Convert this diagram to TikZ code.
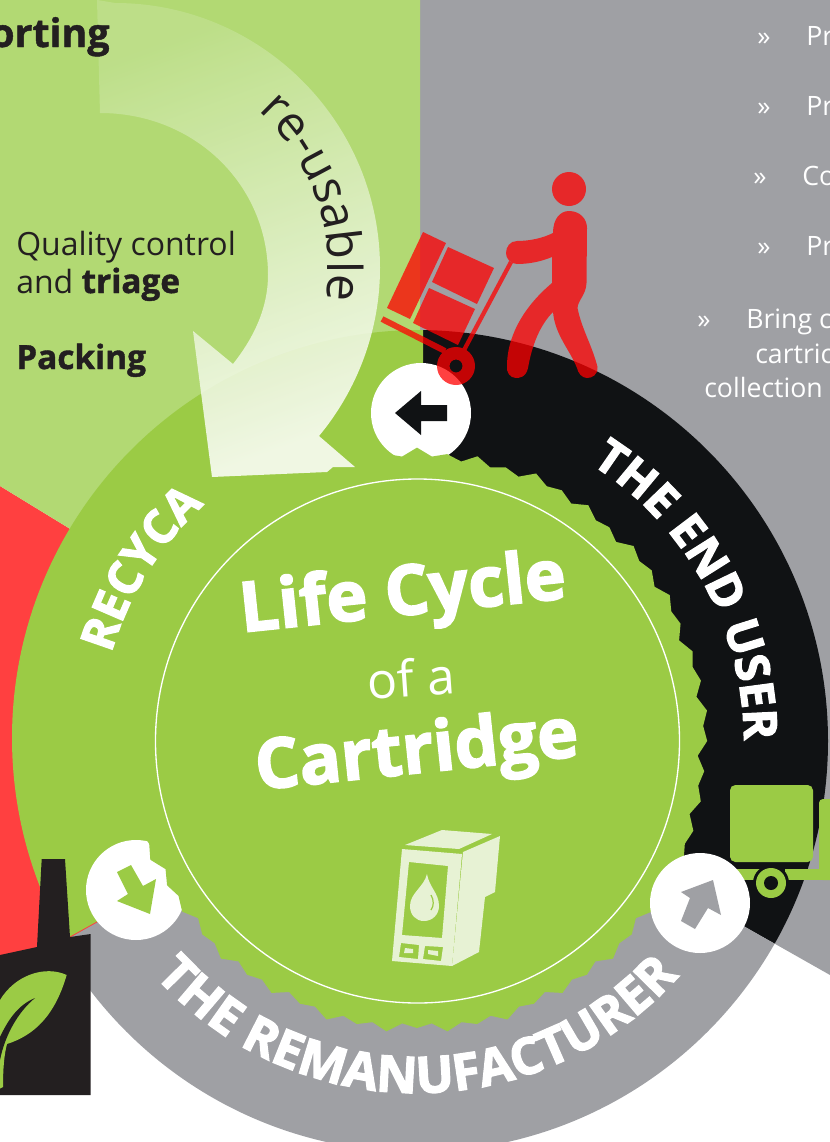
\documentclass[tikz,border=0pt]{standalone}
\usepackage{fontspec}
\setmainfont{Open Sans}
\newfontfamily\xboldfam[BoldFeatures={FakeBold=2.5}]{Open Sans}
\newcommand\xbold{\xboldfam\bfseries}
\newfontfamily\mboldfam[BoldFeatures={FakeBold=1.2}]{Open Sans}
\usetikzlibrary{decorations.text}
\definecolor{ringgreen}{HTML}{9BCB45}
\definecolor{lightgreen}{HTML}{B2D973}
\definecolor{greyc}{HTML}{9FA0A4}
\definecolor{blackc}{HTML}{101214}
\definecolor{redc}{HTML}{FF4040}
\definecolor{inkc}{HTML}{231F20}
\definecolor{paleg}{HTML}{E7F2D4}
\definecolor{arrowtop}{HTML}{BFE08C}
\definecolor{arrowbot}{HTML}{FFFFFF}
\newcommand\fs[1]{\fontsize{#1}{#1}\selectfont}
\tikzset{
  badge/.style={fill=white},
  greytext/.style={text=white,anchor=base west,inner sep=0pt,font=\fs{20}},
  darktext/.style={text=inkc,anchor=base west,inner sep=0pt,font=\fs{24}},
  boldtext/.style={text=inkc,anchor=base west,inner sep=0pt,font=\mboldfam\bfseries\fs{25}},
}
\def\u{0.75pt}
\begin{document}
\begin{tikzpicture}[x=0.75pt,y=-0.75pt]
\useasboundingbox (0,0) rectangle (830,1142);
\clip (0,0) rectangle (830,1142);
% background wedges
\fill[greyc] (420,0) -- (830,0) -- (830,975) -- (417,741) -- cycle;
\fill[redc] (417,741) -- (0,486) -- (0,1010) -- cycle;
\fill[lightgreen] (420,0) -- (0,0) -- (0,486) -- (417,741) -- (420,741) -- cycle;
% ring sectors
\begin{scope}
  \clip (423,0) -- (1000,0) -- (1017,1081) -- (417,741) -- (423,741) -- cycle;
  \fill[blackc] (417,741) circle[radius=411*\u];
\end{scope}
\begin{scope}
  \clip (417,741) -- (1017,1081) -- (1017,1400) -- (-400,1400) -- (-400,1203) -- cycle;
  \fill[greyc] (417,741) circle[radius=411*\u];
\end{scope}
\begin{scope}
  \clip (423,0) -- (-400,0) -- (-400,1203) -- (417,741) -- (423,741) -- cycle;
  \fill[ringgreen] (420,738) circle[radius=408*\u];
\end{scope}
\draw[redc,line width=0.6] (70,937) -- (97,922);
% factory
\fill[inkc] (41.7,859) -- (65,859) -- (70,937) -- (90.7,934) -- (90.7,1095) -- (0,1095) -- (0,955) -- (37,947) -- cycle;
\fill[ringgreen] (66.7,975) .. controls (45,965) and (15,975) .. (0,1000) -- (-3,1090) -- (3,1087) .. controls (3,1070) and (4,1055) .. (7,1044) .. controls (35,1035) and (55,1015) .. (66.7,975) -- cycle;
\fill[inkc] (35,998) .. controls (18,1005) and (8,1020) .. (0,1037) -- (0,1060) .. controls (5,1035) and (18,1012) .. (35,998) -- cycle;
% badges under the gear
\fill[badge] (421,413) circle[radius=50*\u];
\fill[badge] (136,890) circle[radius=50*\u];
\fill[blackc] (395,413) -- (421,391) -- (421,405) -- (447,405) -- (447,421) -- (421,421) -- (421,435) -- cycle;
\fill[ringgreen] (131,865) -- (117,872) -- (128,894) -- (117,901) -- (150,914) -- (156,879) -- (143,886) -- cycle;
% gear
\fill[ringgreen] plot[domain=0:360,samples=121] ({417+(287+3.2*cos(60*mod(\x,6))+2*sin(29*\x)+1.2*sin(13*\x))*cos(\x)},{741-(287+3.2*cos(60*mod(\x,6))+2*sin(29*\x)+1.2*sin(13*\x))*sin(\x)}) -- cycle;
\draw[white,line width=1pt] (417.5,741) circle[radius=262*\u];
% re-use arrow
\shade[opacity=0.85,top color=arrowtop,bottom color=arrowbot,shading angle=20]
  (97,0) -- (115,3) .. controls (261,3) and (380,122) .. (380,268)
  .. controls (380,329.5) and (358,389) .. (319,436) -- (355,467) -- (333,467) -- (327,472) -- (212,477) -- (193,331) -- (233,364)
  .. controls (252,340) and (268,310) .. (268,275)
  .. controls (268,185) and (195,113) .. (100,113) -- cycle;
\path[decorate,decoration={text along path,text align=center,
  text={|\fs{36}\color{inkc}|re-usable}}]
  plot[domain=72:-33,samples=50] ({115+213*cos(\x)},{268-213*sin(\x)});
% truck
\fill[blackc] (771,883) circle[radius=19*\u];
\fill[ringgreen,rounded corners=4] (730,785) rectangle (813,862);
\fill[ringgreen,rounded corners=3] (819,880) -- (819,799) -- (835,799) -- (835,880) -- cycle;
\fill[ringgreen] (735,869) -- (760,869) -- (760,880) -- (735,880) -- cycle;
\fill[ringgreen] (785,869) -- (835,869) -- (835,880) -- (785,880) -- cycle;
\fill[blackc] (771,883) circle[radius=18*\u];
\fill[ringgreen] (771,883) circle[radius=15*\u];
\fill[blackc] (771,883) circle[radius=7*\u];
% right badge
\fill[badge] (700,903) circle[radius=50*\u];
\fill[greyc] (713,880) -- (681,892) -- (690,898) -- (681,921) -- (695,929) -- (708,908) -- (721,915) -- cycle;
% hand truck and person
\begin{scope}[transparency group,opacity=0.75]
\fill[red] (569,189) circle[radius=17*\u];
\fill[red] (553,233) .. controls (553,219) and (560,211) .. (569,211) .. controls (580,211) and (587,219) .. (587,228) -- (586.5,283) .. controls (586,295) and (578,300) .. (577.5,308) .. controls (582,330) and (592,345) .. (597.5,367) .. controls (598,375) and (592,378) .. (587,378) .. controls (582,378) and (578,373) .. (577,368) .. controls (570,350) and (555,335) .. (553,312) .. controls (540,325) and (532,345) .. (528,368) .. controls (526,378) and (518,378) .. (516,378) .. controls (510,378) and (506,372) .. (507,366) .. controls (507,340) and (520,310) .. (552,283) -- (552,257) .. controls (540,262) and (528,264) .. (517,264) .. controls (510,264) and (506,258) .. (506,253) .. controls (506,247) and (510,241) .. (517,241) .. controls (530,241) and (543,238) .. (553,233) -- cycle;
\draw[red,line width=3.2] (511,262) -- (463,352);
\draw[red,line width=4.5] (382,319) -- (445,351);
\fill[red] (423,232) -- (446,243) -- (410,319) -- (387,308) -- cycle;
\fill[red] (448,247) -- (494,268) -- (477,304) -- (432,282) -- cycle;
\fill[red] (429,288) -- (475,309) -- (458,345) -- (413,323) -- cycle;
\fill[red,even odd rule] (456,366) circle[radius=19*\u] (456,366) circle[radius=6.5*\u];
\end{scope}
% cartridge
\fill[paleg,even odd rule] (402,849) -- (462,854) -- (452,966) -- (392,961) -- cycle
  (409,862) -- (448,866) -- (442,938) -- (402,935) -- cycle
  (401,943) -- (419,945) -- (418,959) -- (399,957) -- cycle
  (425,946) -- (443,947) -- (441,961) -- (423,959) -- cycle;
\fill[paleg] (405,948) -- (413,949) -- (413,953) -- (404,953) -- cycle;
\fill[paleg] (428,950) -- (438,951) -- (438,956) -- (428,954) -- cycle;
\fill[paleg] (405,845) -- (442,830) -- (492,834) -- (459,849) -- cycle;
\fill[paleg] (463,852) -- (500,836) -- (495,892) -- (485,897) -- (479,952) -- (452,966) -- cycle;
\fill[paleg] (427,874) .. controls (424,887) and (410,893) .. (410,906) .. controls (410,915) and (416,921) .. (424,921) .. controls (433,921) and (439,914) .. (439,906) .. controls (439,893) and (429,887) .. (427,874) -- cycle;
\draw[ringgreen,line width=0.9] (431,895) .. controls (434,900) and (434,906) .. (431,910);
% ring labels
\path[decorate,decoration={text along path,text align=center,
  text={|\xbold\fs{35}\color{white}|THE END USER}}]
  plot[domain=94:-36,samples=80] ({417+327*cos(\x)},{741-327*sin(\x)});
\path[decorate,decoration={text along path,text align=center,
  text={|\xbold\fs{38}\color{white}|THE REMANUFACTURER}}]
  plot[domain=195:345,samples=90] ({417+352*cos(\x)},{741-352*sin(\x)});
\path[decorate,decoration={text along path,text align=center,
  text={|\xbold\fs{35}\color{white}|RECYCA}}]
  plot[domain=190:106,samples=60] ({417+318*cos(\x)},{741-318*sin(\x)});
% centre title
\node[text=white,rotate=6,inner sep=0pt,font=\xbold\fs{52}] (title1) at (403,597) {Life Cycle};
\node[text=white,rotate=4,inner sep=0pt,font=\fs{37.5}] (title2) at (411,678) {of a};
\node[text=white,rotate=6,inner sep=0pt,font=\xbold\fs{52}] (title3) at (417,755) {Cartridge};
% left texts
\node[boldtext,font=\mboldfam\bfseries\fs{29.5}] (sorting) at (-10,47) {orting};
\node[darktext] (q1) at (16,255) {Quality control};
\node[darktext] (q2) at (16,293) {and {\mboldfam\bfseries\fs{25}triage}};
\node[boldtext] (packing) at (16,369) {Packing};
% right texts
\node[greytext] (b1) at (757,45) {»};
\node[greytext] (t1) at (806,45) {Pr};
\node[greytext] (b2) at (757,115) {»};
\node[greytext] (t2) at (806,115) {Pr};
\node[greytext] (b3) at (753,185) {»};
\node[greytext] (t3) at (802,185) {Co};
\node[greytext] (b4) at (757,255) {»};
\node[greytext] (t4) at (806,255) {Pr};
\node[greytext] (b5) at (697,328) {»};
\node[greytext] (t5) at (746,328) {Bring c};
\node[greytext] (t6) at (755,363) {cartric};
\node[greytext] (t7) at (704,397) {collection};
\end{tikzpicture}
\end{document}
